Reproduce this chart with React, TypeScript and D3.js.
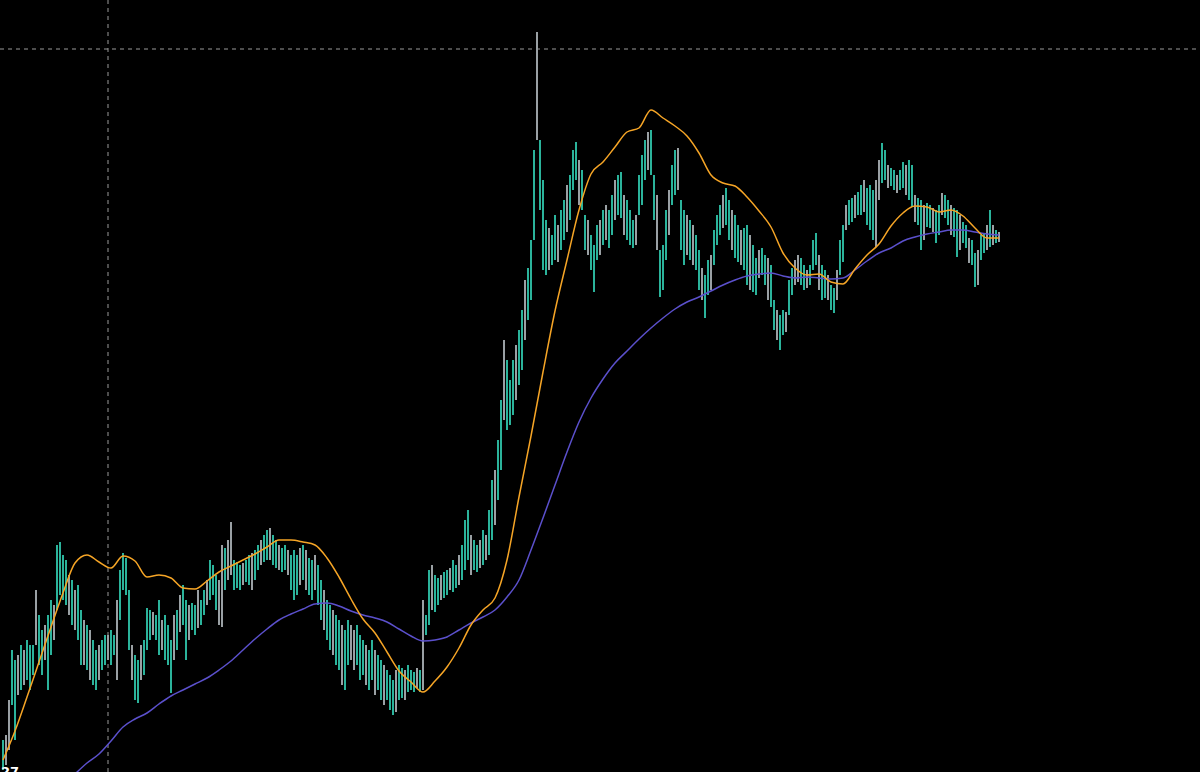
import React from "react";
import * as d3 from "d3";

// Price bars (high / low per bar)
const highs: number[] = [
  60, 65, 100, 150, 140, 145, 155, 150, 160, 155,
  155, 210, 185, 170, 175, 185, 200, 195, 255, 258,
  245, 240, 225, 220, 210, 215, 190, 180, 175, 170,
  160, 150, 155, 160, 165, 165, 170, 165, 200, 230,
  247, 242, 210, 155, 145, 140, 155, 160, 192, 190,
  188, 185, 200, 180, 185, 175, 160, 185, 190, 205,
  215, 200, 195, 197, 195, 210, 200, 210, 220, 240,
  235, 225, 220, 255, 252, 260, 278, 240, 238, 235,
  237, 240, 245, 247, 250, 255, 260, 265, 270, 272,
  265, 260, 255, 252, 255, 250, 245, 250, 245, 252,
  255, 250, 242, 240, 245, 235, 220, 210, 200, 195,
  190, 185, 180, 175, 170, 180, 175, 170, 175, 165,
  160, 155, 150, 160, 150, 145, 140, 135, 130, 125,
  120, 130, 135, 132, 130, 135, 130, 128, 132, 130,
  200, 185, 230, 235, 225, 222, 225, 228, 230, 232,
  240, 235, 245, 255, 280, 290, 265, 260, 255, 260,
  270, 265, 290, 320, 330, 360, 400, 460, 440, 420,
  440, 455, 470, 490, 520, 532, 560, 650, 768, 660,
  620, 580, 572, 565, 585, 575, 590, 600, 615, 625,
  650, 658, 640, 630, 585, 580, 565, 555, 575, 580,
  590, 595, 590, 605, 620, 625, 628, 605, 600, 590,
  580, 585, 625, 645, 660, 668, 670, 625, 605, 550,
  555, 590, 610, 635, 650, 652, 600, 590, 585, 580,
  575, 565, 550, 532, 525, 540, 545, 570, 585, 595,
  605, 612, 600, 590, 585, 575, 570, 572, 575, 565,
  555, 542, 550, 552, 545, 542, 535, 500, 490, 485,
  490, 488, 520, 532, 540, 545, 542, 535, 530, 535,
  560, 567, 545, 535, 530, 525, 515, 512, 530, 560,
  575, 595, 600, 602, 605, 608, 615, 620, 612, 615,
  610, 620, 640, 657, 650, 635, 632, 630, 625, 630,
  638, 635, 640, 635, 605, 602, 600, 595, 597, 595,
  592, 590, 595, 607, 605, 600, 595, 592, 590, 585,
  578, 575, 562, 560, 547, 550, 565, 567, 575, 590,
  575, 570, 568,
];

const lows: number[] = [
  30, 35, 50, 95, 60, 105, 110, 115, 120, 110,
  125, 155, 135, 125, 140, 110, 145, 160, 190, 205,
  200, 195, 185, 175, 170, 160, 135, 135, 130, 120,
  115, 110, 120, 130, 135, 140, 135, 145, 120, 180,
  210, 205, 150, 120, 100, 97, 120, 125, 150, 160,
  165, 160, 145, 150, 140, 135, 107, 140, 150, 168,
  175, 140, 160, 170, 165, 172, 175, 185, 195, 200,
  205, 190, 175, 173, 210, 220, 225, 210, 212, 210,
  215, 218, 215, 210, 220, 230, 235, 238, 240, 240,
  235, 232, 230, 228, 230, 225, 210, 200, 205, 215,
  220, 210, 205, 200, 210, 195, 180, 170, 160, 150,
  145, 135, 130, 115, 110, 135, 140, 130, 135, 120,
  125, 115, 110, 120, 105, 110, 100, 95, 100, 90,
  85, 88, 100, 102, 100, 108, 110, 108, 112, 108,
  110, 165, 175, 190, 188, 195, 200, 202, 205, 210,
  208, 212, 215, 220, 230, 240, 225, 230, 228, 232,
  235, 240, 245, 260, 275, 300, 330, 380, 370, 375,
  385, 400, 415, 430, 460, 480, 500, 560, 660, 590,
  530, 525, 530, 535, 540, 538, 550, 560, 568, 580,
  610, 620, 595, 590, 550, 545, 530, 508, 540, 545,
  555, 560, 552, 565, 580, 585, 582, 565, 560, 555,
  552, 555, 585, 595, 620, 630, 625, 580, 550, 503,
  510, 540, 565, 595, 605, 610, 550, 535, 545, 540,
  535, 530, 510, 500, 482, 505, 510, 535, 555, 565,
  572, 575, 560, 550, 542, 538, 535, 530, 515, 510,
  508, 505, 522, 525, 515, 500, 493, 470, 460, 450,
  465, 468, 485, 505, 515, 518, 515, 510, 512, 515,
  530, 535, 510, 500, 502, 500, 490, 487, 500, 525,
  538, 570, 575, 578, 582, 585, 585, 588, 575, 570,
  560, 553, 600, 617, 620, 612, 614, 610, 607, 610,
  612, 605, 600, 593, 578, 575, 550, 560, 573, 572,
  568, 557, 565, 585, 582, 575, 565, 563, 543, 550,
  557, 552, 537, 535, 513, 515, 540, 547, 550, 553,
  555, 557, 558,
];

// Bar colour: u = rising (teal), d = falling (grey)
const directions =
  "udduududuu" + "uduuduuduu" + "uududuudud" + "uuduuduudu" + "uuuduuduuu" +
  "duuduuudud" + "uuduuduudu" + "uuddudduuu" + "duuduuduud" + "uuduuduuud" +
  "uduuduuduu" + "duuduudduu" + "uduuduuduu" + "uduuduuudu" + "duuduuduud" +
  "uuduuuduud" + "uduuduuduu" + "uduuduuudu" + "uuduuduudu" + "uuduuduuud" +
  "uduuduuduu" + "uduuuduudu" + "uuduuduudu" + "duuduuduuu" + "duuduuduud" +
  "uuduuduudu" + "uduudduudu" + "uuduuduudu" + "uduuduuduu" + "udduuduudu" +
  "uduuduuduu" + "duuduuduud" + "uuduuduudu" + "dud";

// Moving averages, sampled every 4th bar
const maSampleEvery = 4;
const fastMA: number[] = [
  40, 69, 103, 138, 173, 207, 237, 245, 238, 232,
  244, 239, 223, 225, 222, 212, 211, 219, 228, 234,
  240, 246, 253, 260, 260, 258, 255, 242, 223, 201,
  181, 167, 148, 129, 118, 108, 119, 133, 152, 175,
  190, 202, 240, 303, 364, 428, 489, 540, 590, 626,
  638, 653, 668, 672, 690, 682, 674, 664, 647, 625,
  617, 614, 603, 589, 573, 547, 532, 525, 526, 518,
  516, 531, 545, 556, 574, 587, 594, 593, 588, 590,
  584, 572, 562, 562,
];

const slowMA: (number | null)[] = [
  null, null, null, null, null, null, 26, 37, 46, 59,
  73, 81, 87, 96, 104, 110, 116, 122, 130, 139,
  150, 161, 171, 180, 186, 191, 196, 197, 194, 189,
  185, 182, 178, 171, 164, 159, 160, 163, 170, 177,
  183, 190, 203, 220, 250, 282, 315, 348, 378, 402,
  421, 437, 449, 461, 472, 482, 491, 498, 503, 509,
  515, 520, 524, 526, 527, 524, 522, 523, 522, 521,
  522, 530, 539, 547, 552, 559, 563, 566, 568, 570,
  570, 568, 566, 565,
];

const crosshairPrice = 751;
const crosshairBar = 35;
const cornerLabel = "27";

const W = 1200;
const H = 772;

export default function App() {
  const n = highs.length;
  const x = d3.scaleLinear().domain([0, n - 1]).range([3, 999]);
  const y = d3.scaleLinear().domain([28, 800]).range([H, 0]);

  const fastLine = d3
    .line<number>()
    .x((_, i) => x(i * maSampleEvery))
    .y((d) => y(d))
    .curve(d3.curveMonotoneX);
  const slowLine = d3
    .line<number | null>()
    .defined((d) => d != null)
    .x((_, i) => x(i * maSampleEvery))
    .y((d) => y(d as number))
    .curve(d3.curveMonotoneX);

  return (
    <svg
      width={W}
      height={H}
      style={{ position: "absolute", left: 0, top: 0, display: "block", background: "#000" }}
    >
      <rect x={0} y={0} width={W} height={H} fill="#000" />
      {/* crosshair */}
      <line
        x1={0}
        x2={W}
        y1={y(crosshairPrice)}
        y2={y(crosshairPrice)}
        stroke="#9a9a9a"
        strokeWidth={1}
        strokeDasharray="4 4"
      />
      <line
        x1={x(crosshairBar)}
        x2={x(crosshairBar)}
        y1={0}
        y2={H}
        stroke="#9a9a9a"
        strokeWidth={1}
        strokeDasharray="4 4"
      />
      {/* bars */}
      <g>
        {highs.map((h, i) => {
          const up = (directions[i] || "u") === "u";
          return (
            <line
              key={i}
              x1={x(i)}
              x2={x(i)}
              y1={y(h)}
              y2={y(lows[i])}
              stroke={up ? "#2bb39b" : "#9aa0a4"}
              strokeWidth={2}
            />
          );
        })}
      </g>
      <path d={slowLine(slowMA) || ""} fill="none" stroke="#5b50cc" strokeWidth={1.5} />
      <path d={fastLine(fastMA) || ""} fill="none" stroke="#f6a526" strokeWidth={1.5} />
      <text
        x={1}
        y={776}
        fill="#fff"
        fontFamily="DejaVu Sans, sans-serif"
        fontWeight="bold"
        fontSize={13}
      >
        {cornerLabel}
      </text>
    </svg>
  );
}
